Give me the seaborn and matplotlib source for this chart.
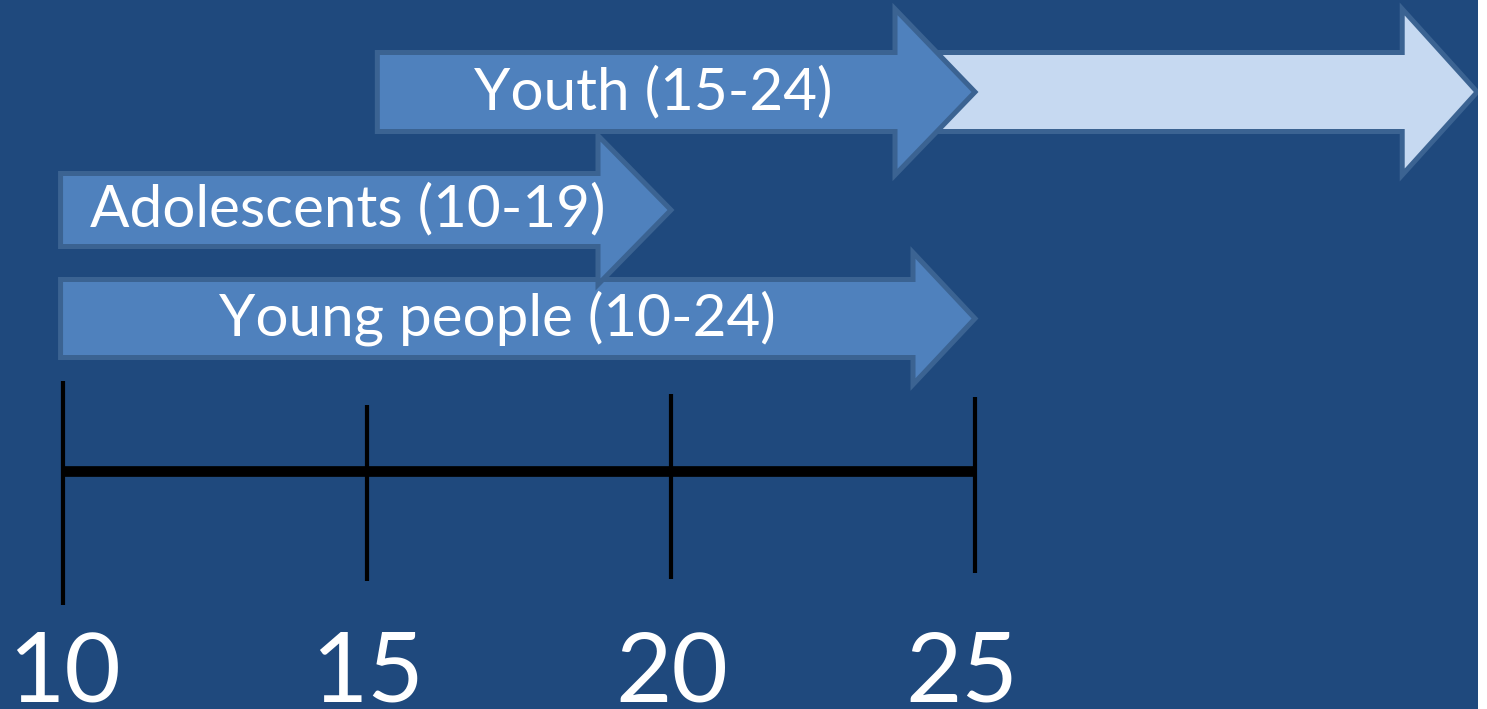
import numpy as np
import pandas as pd
import matplotlib
matplotlib.use("Agg")
import matplotlib.pyplot as plt
from matplotlib.patches import FancyArrow
import seaborn as sns

# --- data -------------------------------------------------------------
GROUPS      = ["Youth (15-24)", "Adolescents (10-19)", "Young people (10-24)"]
AGE_START   = [15.17, 9.96, 9.96]
AGE_END     = [25, 20, 25]
EXTENSION   = (24.0, 33.26)          # pale arrow running on past 25
TICK_AGES   = [10, 15, 20, 25]
TICK_LABELS = ["10", "15", "20", "25"]

# --- style ------------------------------------------------------------
BG      = "#1F497D"
FILL    = "#4F81BD"
PALE    = "#C6D9F1"
EDGE    = "#3B6392"
W, H, DPI = 1487, 709, 100
PX_PER_YEAR = 60.8
ORIGIN_PX   = 63                     # pixel of age 10

# per-row geometry in pixel units: (centre y, body width, head width, head length px)
ROW_GEOM = {
    "Youth (15-24)":        (92.0, 79, 166, 80),
    "Adolescents (10-19)":  (210.0, 73, 149, 73),
    "Young people (10-24)": (318.5, 78, 132, 62),
}
TEXT_POS = {                         # text centre (age offset from arrow mid, y)
    "Youth (15-24)":        (-0.38, 93),
    "Adolescents (10-19)":  (-0.3, 210),
    "Young people (10-24)": (-0.33, 318),
}
TICK_SPANS = [(381, 605), (405, 581), (394, 579), (397, 573)]
LABEL_NUDGE = [0.02, 0.0, 0.02, -0.22]   # small label shifts, in years
BASELINE_Y = 470.8

sns.set_theme(style="white", rc={"axes.facecolor": BG, "figure.facecolor": "white"})
plt.rcParams["font.family"] = ["Lato", "DejaVu Sans"]

fig = plt.figure(figsize=(W / DPI, H / DPI), dpi=DPI)
ax = fig.add_axes([0, 0, 1478 / W, 1])
ax.set_facecolor(BG)

x_left = 10 - ORIGIN_PX / PX_PER_YEAR
x_right = 10 + (1478 - ORIGIN_PX) / PX_PER_YEAR


def draw_arrow(x0, x1, geom, color, z):
    yc, body, head, head_len = geom
    arr = FancyArrow(x0, yc, x1 - x0, 0, width=body, head_width=head,
                     head_length=head_len / PX_PER_YEAR,
                     length_includes_head=True, facecolor=color,
                     edgecolor=EDGE, linewidth=3.6, joinstyle="miter",
                     zorder=z)
    ax.add_patch(arr)


# pale extension sits behind the Youth arrow
youth_geom = ROW_GEOM["Youth (15-24)"]
draw_arrow(EXTENSION[0], EXTENSION[1],
           (youth_geom[0], youth_geom[1], youth_geom[2], 75), PALE, 2)

z_order = {"Youth (15-24)": 4, "Adolescents (10-19)": 4, "Young people (10-24)": 3}
for name, s, e in zip(GROUPS, AGE_START, AGE_END):
    draw_arrow(s, e, ROW_GEOM[name], FILL, z_order[name])
    dx, ty = TEXT_POS[name]
    ax.text((s + e) / 2 + dx, ty, name, color="white", fontsize=42,
            ha="center", va="center", zorder=6)

# timeline
line_df = pd.DataFrame({"age": [TICK_AGES[0], TICK_AGES[-1]],
                        "y": [BASELINE_Y, BASELINE_Y]})
sns.lineplot(data=line_df, x="age", y="y", color="black", linewidth=7.7,
             ax=ax, zorder=5, solid_capstyle="butt")
for age, (y0, y1) in zip(TICK_AGES, TICK_SPANS):
    ax.plot([age, age], [y0, y1], color="black", linewidth=3, zorder=5,
            solid_capstyle="butt")
for age, lab, nudge in zip(TICK_AGES, TICK_LABELS, LABEL_NUDGE):
    ax.text(age + nudge, 702, lab, color="white", fontsize=70, ha="center",
            va="baseline", zorder=6)

ax.set_xlim(x_left, x_right)
ax.set_ylim(H, 0)
ax.set_axis_off()
ax.add_patch(plt.Rectangle((0, 0), 1, 1, transform=ax.transAxes,
                           facecolor=BG, edgecolor="none", zorder=0))

fig.savefig("out.png", dpi=DPI, facecolor="white")
